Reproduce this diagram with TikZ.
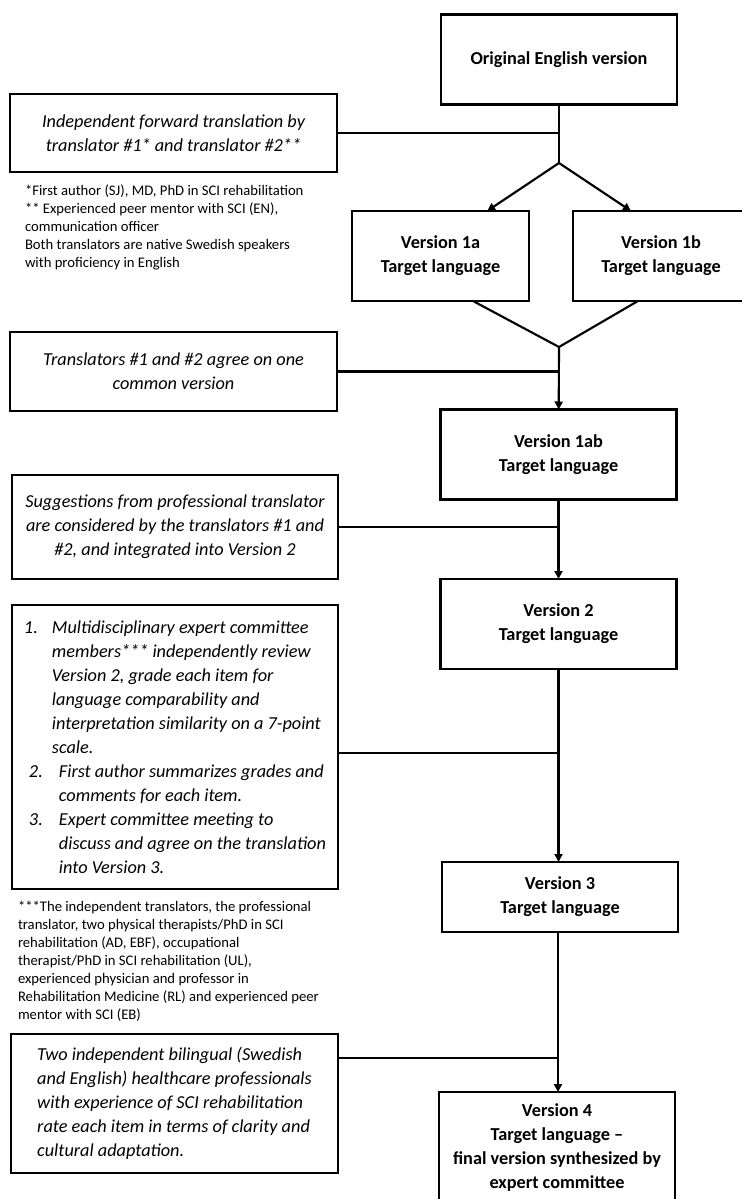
\documentclass[tikz,border=0pt]{standalone}
\usepackage{fontspec}
\setmainfont{Carlito}
\usepackage{tikz}
\usetikzlibrary{arrows.meta, positioning, calc}
\newcommand{\boxfont}{\fontsize{13.7}{18}\selectfont}
\newcommand{\notefont}{\fontsize{11}{13.5}\selectfont}
\newcommand{\itemno}[1]{\makebox[21pt][l]{#1}}
\newcommand{\itemnob}[1]{\hspace{3.75pt}\makebox[22.5pt][l]{#1}}

\begin{document}
\begin{tikzpicture}[
    x=0.75pt, y=-0.75pt,
    every node/.style={inner sep=0pt, outer sep=0pt},
    vbox/.style={draw, line width=1.6pt, align=center, font=\boxfont\bfseries,
                 minimum width=177pt, minimum height=67.5pt},
    stepbox/.style={draw, line width=1.6pt, align=center, font=\boxfont\itshape,
                 minimum width=245pt},
    note/.style={align=left, anchor=west, font=\notefont},
    link/.style={line width=1.6pt},
    arr/.style={link, -{Triangle[length=6pt, width=6pt]}}
]
\useasboundingbox (0,0) rectangle (742,1199);

% right column: versions
\node[vbox] (orig) at (559,59.5) {Original English version};
\node[vbox, minimum width=132.75pt] (v1a) at (440.5,256) {Version 1a\\Target language};
\node[vbox, minimum width=132pt] (v1b) at (661,256) {Version 1b\\Target language};
\node[vbox] (v1ab) at (558.5,454.5) {Version 1ab\\Target language};
\node[vbox] (v2) at (558.5,624) {Version 2\\Target language};
\node[vbox, minimum height=52.5pt] (v3) at (560,897) {Version 3\\Target language};
\node[vbox, minimum height=83.25pt] (v4) at (557,1147.5)
    {Version 4\\Target language --\\final version synthesized by\\expert committee};

% left column: steps
\node[stepbox, minimum height=58.5pt] (fwd) at (173.5,133)
    {Independent forward translation by\\translator \#1* and translator \#2**};
\node[stepbox, minimum height=59.25pt] (agree) at (173.5,371.5)
    {Translators \#1 and \#2 agree on one\\common version};
\node[stepbox, minimum height=78pt] (sugg) at (175,527)
    {Suggestions from professional translator\\are considered by the translators \#1 and\\\#2, and integrated into Version 2};
\node[stepbox, align=left, minimum height=213pt] (multi) at (175,747)
    {\itemno{1.}Multidisciplinary expert committee\\
     \itemno{}members*** independently review\\
     \itemno{}Version 2, grade each item for\\
     \itemno{}language comparability and\\
     \itemno{}interpretation similarity on a 7-point\\
     \itemno{}scale.\\
     \itemnob{2.}First author summarizes grades and\\
     \itemnob{}comments for each item.\\
     \itemnob{3.}Expert committee meeting to\\
     \itemnob{}discuss and agree on the translation\\
     \itemnob{}into Version 3.};
\node[stepbox, align=left, minimum height=104.25pt] (two) at (174.5,1103.5)
    {Two independent bilingual (Swedish\\
     and English) healthcare professionals\\
     with experience of SCI rehabilitation\\
     rate each item in terms of clarity and\\
     cultural adaptation.};

% footnotes
\node[note] (fnone) at (25,227)
    {*First author (SJ), MD, PhD in SCI rehabilitation\\
     ** Experienced peer mentor with SCI (EN),\\
     communication officer\\
     Both translators are native Swedish speakers\\
     with proficiency in English};
\node[note] (fnthree) at (18,961.5)
    {***The independent translators, the professional\\
     translator, two physical therapists/PhD in SCI\\
     rehabilitation (AD, EBF), occupational\\
     therapist/PhD in SCI rehabilitation (UL),\\
     experienced physician and professor in\\
     Rehabilitation Medicine (RL) and experienced peer\\
     mentor with SCI (EB)};

% connectors
\coordinate (split) at (559,163);
\coordinate (merge) at (559,347);
\coordinate (jfour) at (558,1058);
\draw[link] (orig) -- (split);
\draw[link] (fwd) -- (fwd -| split);
\draw[arr] (split) -- ([xshift=35pt]v1a.north);
\draw[arr] (split) -- ([xshift=-22.5pt]v1b.north);
\draw[link] ([xshift=24.4pt]v1a.south) -- (merge) -- ([xshift=-17.3pt]v1b.south);
\draw[arr] (merge) -- (v1ab);
\draw[link] (agree) -- (agree -| merge);
\draw[arr] (v1ab) -- (v2);
\draw[link] (sugg) -- (sugg -| v1ab);
\draw[arr] (v2.south) -- (v2.south |- v3.north);
\draw[link] ([yshift=-4.5pt]multi.east) -- ([yshift=-4.5pt]multi.east -| v2.south);
\draw[arr] (jfour |- v3.south) -- (jfour |- v4.north);
\draw[link] (two.east |- jfour) -- (jfour);
\end{tikzpicture}
\end{document}
